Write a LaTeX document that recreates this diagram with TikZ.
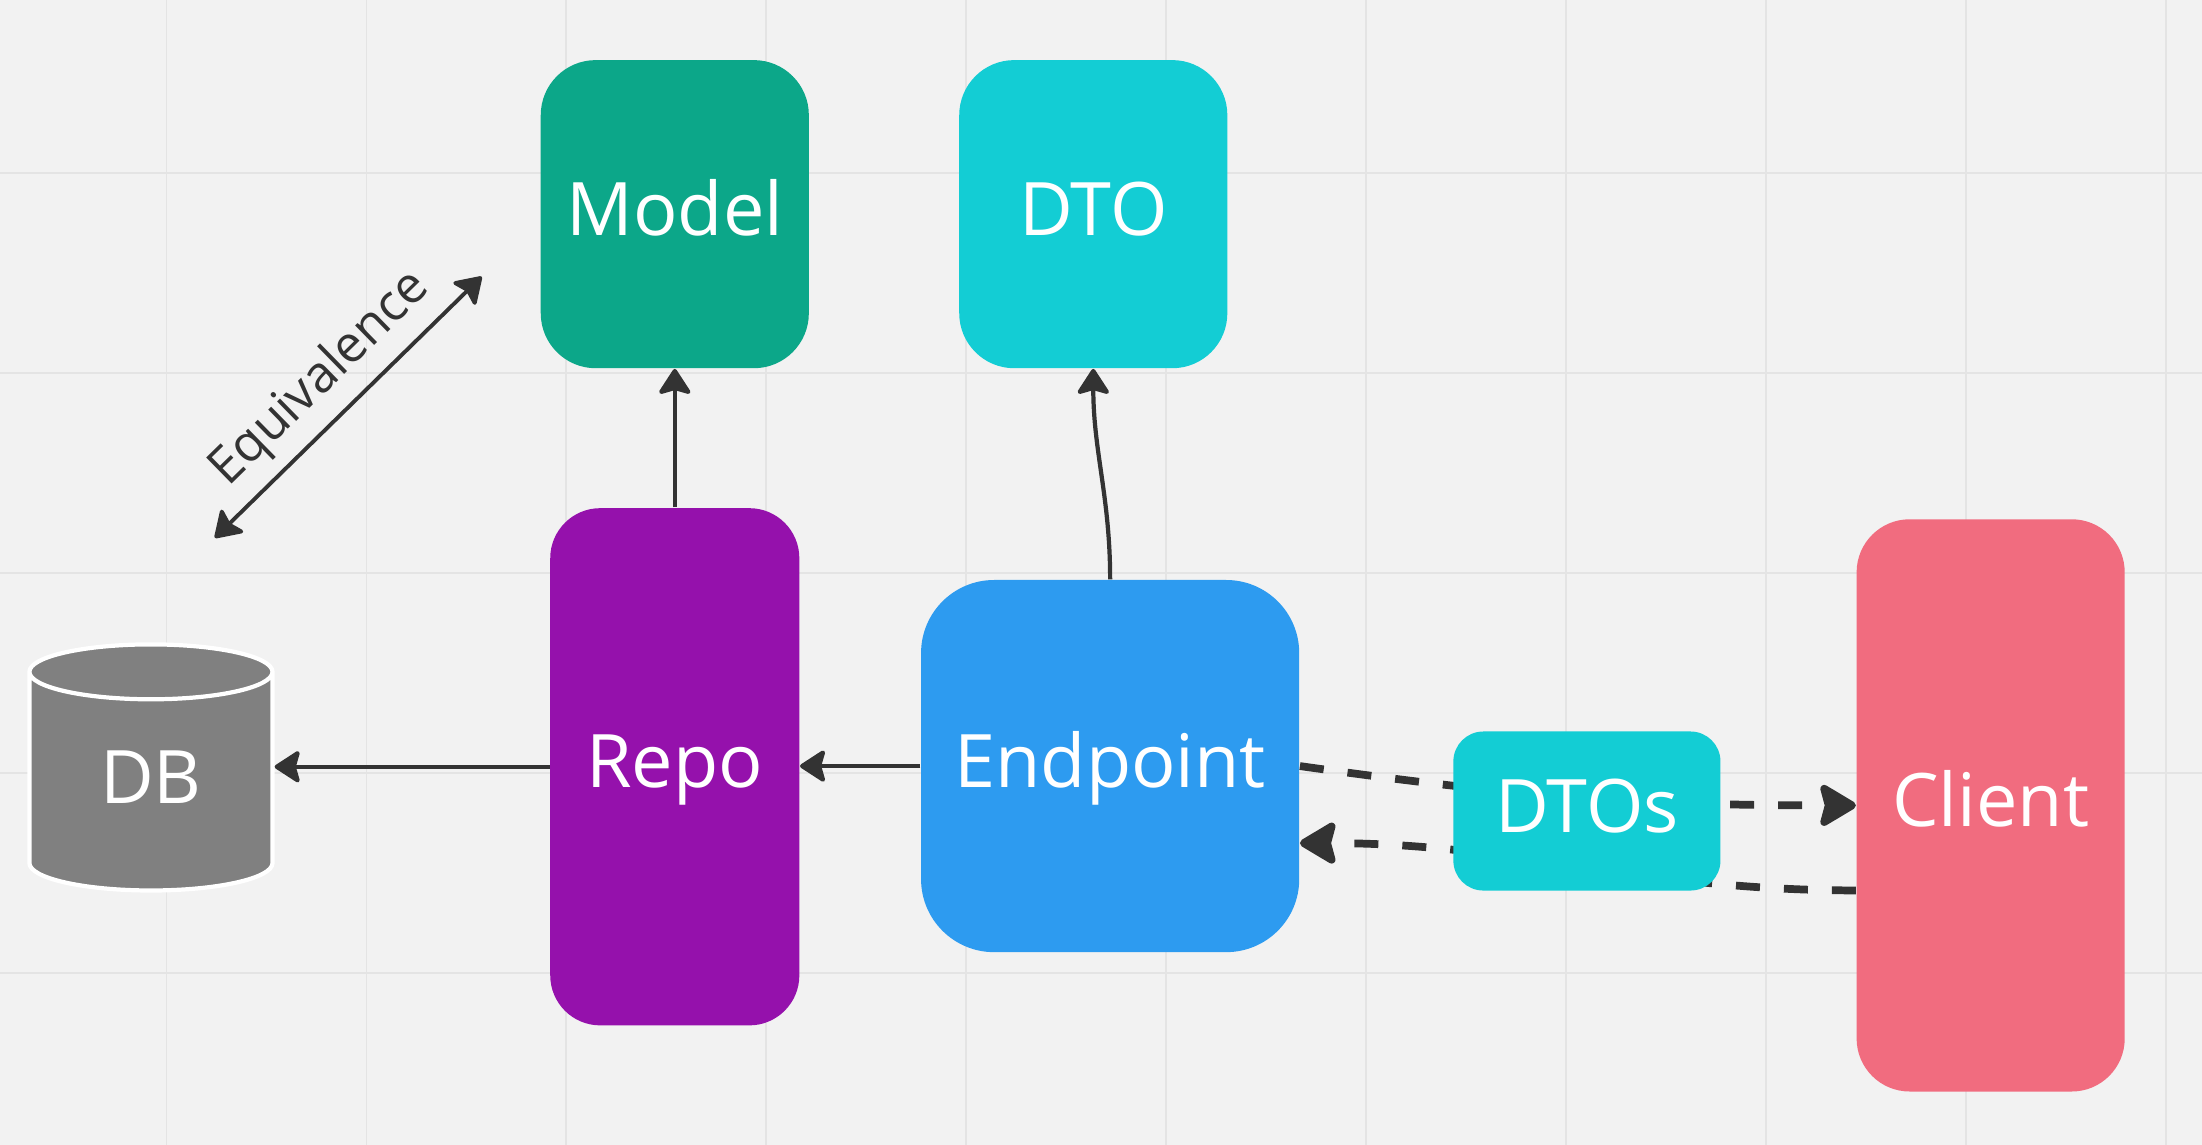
\documentclass[tikz,border=0pt]{standalone}
\usepackage{fontspec}
\setmainfont{Open Sans}
\usetikzlibrary{arrows.meta,shapes.geometric}
\definecolor{bg}{HTML}{F2F2F2}
\definecolor{gridgray}{HTML}{E4E4E4}
\definecolor{modelgreen}{HTML}{0CA789}
\definecolor{dtocyan}{HTML}{13CDD4}
\definecolor{repopurple}{HTML}{9511AC}
\definecolor{endpointblue}{HTML}{2D9BF0}
\definecolor{clientpink}{HTML}{F16C7F}
\definecolor{dbgray}{HTML}{808080}
\definecolor{linegray}{HTML}{333333}
\begin{document}
\begin{tikzpicture}[x=0.014043cm,y=0.014043cm,
    box/.style={inner sep=0pt,text=white,text height=0.5cm,text depth=0.08cm,font=\fontsize{21}{25}\selectfont},
    tip/.style={draw=linegray,line width=1.2pt,-{Stealth[length=0.28cm,width=0.36cm,inset=0.05cm,round]}},
    bothtip/.style={draw=linegray,line width=1.1pt,{Stealth[length=0.28cm,width=0.36cm,inset=0.05cm,round]}-{Stealth[length=0.28cm,width=0.36cm,inset=0.05cm,round]}},
    dashtip/.style={draw=linegray,line width=2.2pt,dash pattern=on 0.24cm off 0.24cm,-{Stealth[length=0.41cm,width=0.48cm,inset=0.06cm,round]}}]
    \useasboundingbox (0,0) rectangle (1568,815);
    \fill[bg] (0,0) rectangle (1568,815);
    \foreach \i in {0,...,10} \draw[gridgray,line width=0.5pt] (118.5+142.4*\i,0) -- (118.5+142.4*\i,815);
    \foreach \i in {0,...,4} \draw[gridgray,line width=0.5pt] (0,692-142.4*\i) -- (1568,692-142.4*\i);
    \node[box,fill=modelgreen,rounded corners=0.55cm,minimum width=2.68cm,minimum height=3.08cm] (model) at (480.5,662.5) {Model};
    \node[box,fill=dtocyan,rounded corners=0.55cm,minimum width=2.68cm,minimum height=3.08cm] (dto) at (778.5,662.5) {DTO};
    \node[box,fill=repopurple,rounded corners=0.5cm,minimum width=2.49cm,minimum height=5.17cm] (repo) at (480.5,269) {Repo};
    \node[box,fill=endpointblue,rounded corners=0.73cm,minimum width=3.78cm,minimum height=3.72cm] (endpoint) at (790.5,269.5) {Endpoint};
    \node[box,fill=clientpink,rounded corners=0.53cm,minimum width=2.68cm,minimum height=5.72cm] (client) at (1417.5,241.5) {Client};
    \node[box,cylinder,shape border rotate=90,aspect=0.54,fill=dbgray,draw=white,line width=1.2pt,minimum width=2.43cm,minimum height=2.46cm] (db) at (107.5,258) {DB};
    \coordinate (eqa) at (153,432);
    \coordinate (eqb) at (343,618);
    \draw[tip] (repo.north) -- (model.south);
    \draw[tip] (endpoint.north) to[out=90,in=-90] (dto.south);
    \draw[tip] (repo.west) -- (repo.west -| db.east);
    \draw[tip] (endpoint.west) -- (endpoint.west -| repo.east);
    \draw[bothtip] (eqa) -- node[midway,above,sloped,inner sep=0.12cm,font=\fontsize{14.5}{17}\selectfont,text=linegray] {Equivalence} (eqb);
    \draw[dashtip] (endpoint.east) to[out=-8,in=180] (client.west);
    \draw[dashtip] ([yshift=-0.85cm]client.west) to[out=180,in=0] ([yshift=-0.77cm]endpoint.east);
    \node[box,fill=dtocyan,rounded corners=0.3cm,minimum width=2.67cm,minimum height=1.59cm] (dtos) at (1130,237.5) {DTOs};
\end{tikzpicture}
\end{document}
